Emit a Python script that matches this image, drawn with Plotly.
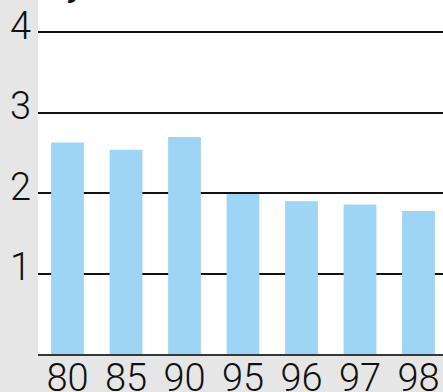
import plotly.graph_objects as go

categories = ["80", "85", "90", "95", "96", "97", "98"]
values = [2.63, 2.54, 2.70, 1.99, 1.90, 1.86, 1.78]
y_ticks = [1, 2, 3, 4]

fig = go.Figure()
fig.add_trace(go.Bar(
    x=list(range(len(categories))), y=values,
    marker=dict(color="#9ed4f4", line=dict(width=0)),
    width=0.56,
))

font = dict(family="Roboto, sans-serif", size=38, color="#111111", weight=300)

fig.update_layout(
    width=443, height=392,
    margin=dict(l=38, r=0, t=0, b=38, autoexpand=False),
    paper_bgcolor="#e6e6e6",
    plot_bgcolor="#ffffff",
    showlegend=False,
    xaxis=dict(
        range=[-0.504, 6.419],
        tickmode="array",
        tickvals=list(range(len(categories))),
        ticktext=categories,
        tickfont=font,
        showgrid=False, zeroline=False,
        showline=True, linecolor="#33383c", linewidth=2,
        ticks="", automargin=False,
        ticklabelstandoff=-11,
        ticklabeloverflow="allow",
        fixedrange=True,
    ),
    yaxis=dict(
        range=[0, 4.404],
        tickmode="array",
        tickvals=y_ticks,
        ticktext=[str(v) for v in y_ticks],
        tickfont=font,
        showgrid=True, gridcolor="#111111", gridwidth=2,
        zeroline=False, showline=False,
        ticks="", automargin=False,
        ticklabelstandoff=6,
        ticklabelshift=-7,
        ticklabeloverflow="allow",
        fixedrange=True,
    ),
    annotations=[dict(
        text="<b><i>y</i></b>", xref="paper", yref="paper",
        x=0.095, y=1.0, xanchor="center", yanchor="bottom",
        yshift=-5, showarrow=False,
        font=dict(family="Liberation Sans", size=28, color="#111111"),
    )],
)

fig.write_html(
    "out.html",
    config={"displayModeBar": False},
    post_script="document.body.style.margin='0';document.body.style.padding='0';document.body.style.overflow='hidden';",
)
